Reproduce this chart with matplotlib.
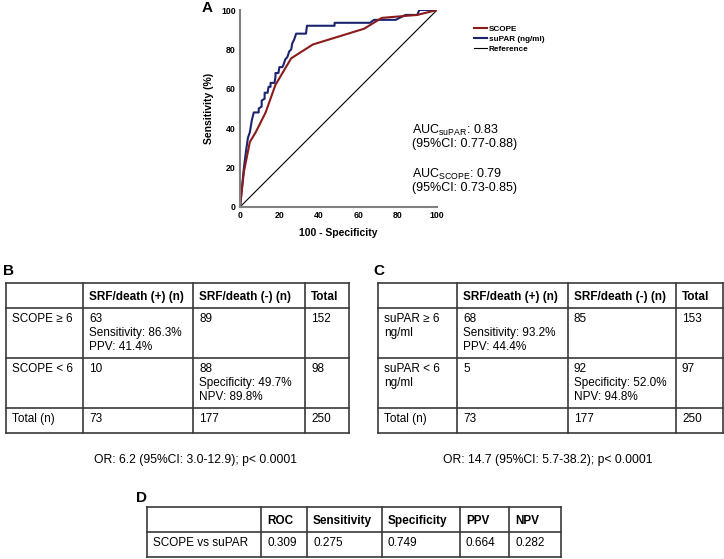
import matplotlib
matplotlib.use("Agg")
import matplotlib.pyplot as plt

plt.rcParams['font.family'] = ['Liberation Sans', 'DejaVu Sans']

# ROC curves (100 - specificity, sensitivity)
scope_fpr = [0, 2, 5, 8, 13, 18, 26, 37, 50, 63, 72, 90, 100]
scope_tpr = [0, 18, 33, 38, 48, 62, 75.5, 82.5, 86.5, 90.5, 96, 97.5, 100]
supar_fpr = [0, 1, 2, 3, 4, 5, 5.5, 6, 6.5, 7, 9.5, 9.5, 11, 11, 12.5, 12.5, 14,
             14.5, 15.5, 15.5, 17.5, 18, 18, 19.5, 20, 21.5, 22, 23, 24, 25, 26,
             26.5, 27.5, 28.5, 33.5, 34, 48, 48, 66, 68, 79, 84, 90, 91, 100]
supar_tpr = [0, 10, 20, 28, 35, 38, 41, 44, 46, 48, 48, 50, 51, 54, 55, 58, 58,
             61, 61, 63, 63, 66, 68, 68, 71, 71, 72, 75, 76, 79, 80,
             83, 85, 88, 88, 92, 92, 93.5, 93.5, 95, 95, 97.5, 97.5, 100, 100]
ticks = [0, 20, 40, 60, 80, 100]

auc_lines = [r'AUC$_{\mathregular{suPAR}}$: 0.83', '(95%CI: 0.77-0.88)',
             r'AUC$_{\mathregular{SCOPE}}$: 0.79', '(95%CI: 0.73-0.85)']

# contingency tables
header_bc = ['', 'SRF/death (+) (n)', 'SRF/death (-) (n)', 'Total']
rows_b = [['SCOPE \u2265 6', '63\nSensitivity: 86.3%\nPPV: 41.4%', '89', '152'],
          ['SCOPE < 6', '10', '88\nSpecificity: 49.7%\nNPV: 89.8%', '98'],
          ['Total (n)', '73', '177', '250']]
rows_c = [['suPAR \u2265 6\nng/ml', '68\nSensitivity: 93.2%\nPPV: 44.4%', '85', '153'],
          ['suPAR < 6\nng/ml', '5', '92\nSpecificity: 52.0%\nNPV: 94.8%', '97'],
          ['Total (n)', '73', '177', '250']]
or_b = 'OR: 6.2 (95%CI: 3.0-12.9); p< 0.0001'
or_c = 'OR: 14.7 (95%CI: 5.7-38.2); p< 0.0001'

header_d = ['', 'ROC', 'Sensitivity', 'Specificity', 'PPV', 'NPV']
rows_d = [['SCOPE vs suPAR', '0.309', '0.275', '0.749', '0.664', '0.282']]

W, H = 724, 559
fig = plt.figure(figsize=(W / 100, H / 100), dpi=100)

# --- panel A: ROC ---
ax = fig.add_axes([240 / W, 1 - 207 / H, 197 / W, 197 / H])
l_ref, = ax.plot([0, 100], [0, 100], color='black', lw=0.8, label='Reference')
l_sup, = ax.plot(supar_fpr, supar_tpr, color='#1c2470', lw=1.5, label='suPAR (ng/ml)')
l_sco, = ax.plot(scope_fpr, scope_tpr, color='#8b1a1a', lw=1.5, label='SCOPE')
ax.set_xlim(0, 100)
ax.set_ylim(0, 100)
ax.set_xticks(ticks)
ax.set_yticks(ticks)
ax.tick_params(length=0, labelsize=6.3, pad=3)
for t in ax.get_xticklabels() + ax.get_yticklabels():
    t.set_fontweight('bold')
for s in ['top', 'right']:
    ax.spines[s].set_visible(False)
for s in ['left', 'bottom']:
    ax.spines[s].set_color('#808080')
    ax.spines[s].set_linewidth(1.5)
ax.set_xlabel('100 - Specificity', fontsize=7.5, fontweight='bold', labelpad=6)
ax.set_ylabel('Sensitivity (%)', fontsize=7.5, fontweight='bold', labelpad=5)
fig.legend(handles=[l_sco, l_sup, l_ref], loc='upper left',
           bbox_to_anchor=(470 / W, 1 - 21 / H), frameon=False,
           prop={'size': 5.9, 'weight': 'bold'}, handlelength=1.6,
           handletextpad=0.2, labelspacing=0.3, borderpad=0)

# overlay in pixel coordinates for tables and labels, drawn above the ROC axes
ov = fig.add_axes([0, 0, 1, 1], zorder=5)
ov.set_xlim(0, W)
ov.set_ylim(H, 0)
ov.axis('off')

for txt, y in zip(auc_lines, [130, 144, 174, 188]):
    ov.text(412, y, txt, fontsize=9, va='center', ha='left')

ov.text(202, 8, 'A', fontsize=11, fontweight='bold', va='center')
ov.text(3, 271, 'B', fontsize=11, fontweight='bold', va='center')
ov.text(373, 271, 'C', fontsize=11, fontweight='bold', va='center')
ov.text(136, 498, 'D', fontsize=11, fontweight='bold', va='center')

line_kw = dict(color='#3a3a3a', lw=1.2)


def draw_table(xs, ys, header, rows, fs=8.5):
    for x in xs:
        ov.plot([x, x], [ys[0], ys[-1]], **line_kw)
    for y in ys:
        ov.plot([xs[0], xs[-1]], [y, y], **line_kw)
    for j, h in enumerate(header):
        ov.text(xs[j] + 6, (ys[0] + ys[1]) / 2 + 4.5, h, fontsize=fs,
                fontweight='bold', va='baseline', ha='left')
    for i, row in enumerate(rows):
        for j, cell in enumerate(row):
            ov.text(xs[j] + 6, ys[i + 1] + 5, cell, fontsize=fs, va='top',
                    ha='left', linespacing=1.22)


draw_table([6, 83, 193, 305, 349], [283, 308, 358, 408, 433], header_bc, rows_b)
draw_table([378, 457, 568, 676, 723], [283, 308, 358, 408, 433], header_bc, rows_c)
ov.text(196, 460, or_b, fontsize=8.7, ha='center', va='center')
ov.text(548, 460, or_c, fontsize=8.7, ha='center', va='center')

draw_table([147, 261, 307, 382, 460, 509, 561], [507, 532, 557], header_d, rows_d)

fig.savefig('out.png', dpi=100)
